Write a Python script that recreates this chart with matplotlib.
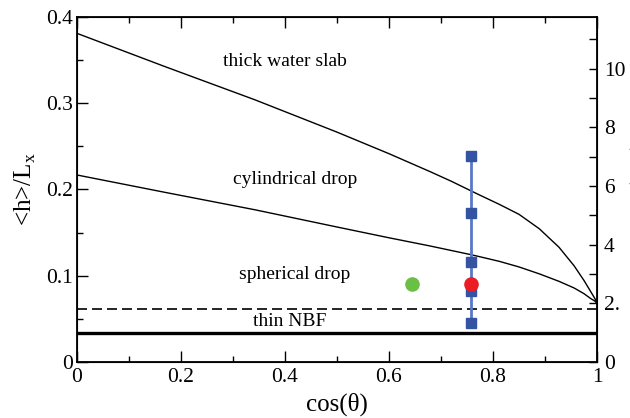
import matplotlib
matplotlib.use("Agg")
import matplotlib.pyplot as plt
from matplotlib.ticker import MultipleLocator, FixedLocator, FixedFormatter

plt.rcParams['font.family'] = ['Liberation Serif', 'DejaVu Serif']

# boundary curves (cos(theta), <h>/Lx)
slab_x = [0.0, 0.169, 0.342, 0.5, 0.6, 0.679, 0.72, 0.757, 0.7735, 0.812, 0.850,
          0.889, 0.927, 0.956, 0.975, 0.988, 0.996, 1.0]
slab_y = [0.381, 0.3425, 0.304, 0.2665, 0.2415, 0.2207, 0.2095, 0.1986, 0.1938, 0.1828,
          0.1712, 0.1545, 0.133, 0.1115, 0.0945, 0.0815, 0.0735, 0.068]

cyl_x = [0.0, 0.169, 0.342, 0.5, 0.6, 0.679, 0.757, 0.7735, 0.812, 0.850, 0.889,
         0.927, 0.956, 0.975, 0.988, 0.996, 1.0]
cyl_y = [0.2168, 0.1967, 0.1765, 0.1565, 0.144, 0.1345, 0.1245, 0.1222, 0.1167,
         0.1102, 0.1022, 0.0935, 0.0858, 0.0792, 0.0735, 0.0706, 0.068]

sphere_limit = 0.0614   # dashed line
nbf_limit = 0.034       # thick solid line

# simulation points
blue_x = [0.757, 0.757, 0.757, 0.757, 0.757]
blue_y = [0.0449, 0.0827, 0.1156, 0.1724, 0.239]
red_x, red_y = [0.757], [0.090]
green_x, green_y = [0.644], [0.090]

region_labels = ['thick water slab', 'cylindrical drop', 'spherical drop', 'thin NBF']
region_pos = [(0.40, 0.3478), (0.42, 0.211), (0.418, 0.1009), (0.409, 0.0464)]

x_ticks = [0, 0.2, 0.4, 0.6, 0.8, 1.0]
x_ticklabels = ['0', '0.2', '0.4', '0.6', '0.8', '1']
y_ticks = [0, 0.1, 0.2, 0.3, 0.4]
y_ticklabels = ['0', '0.1', '0.2', '0.3', '0.4']
r_ticks = [0, 2, 4, 6, 8, 10]
r_ticklabels = ['0', '2.', '4', '6', '8', '10']

fig = plt.figure(figsize=(6.3, 4.18), dpi=100)
ax = fig.add_axes([0.1222, 0.134, 0.8254, 0.8254])

ax.plot(slab_x, slab_y, color='black', lw=1.0)
ax.plot(cyl_x, cyl_y, color='black', lw=1.0)
ax.axhline(sphere_limit, color='black', lw=1.2, dashes=(6, 3))
ax.axhline(nbf_limit, color='black', lw=2.4)

ax.plot(blue_x, blue_y, '-', color='#5a78c8', lw=2.0, zorder=3)
ax.plot(blue_x, blue_y, 's', color='#3453a3', ms=7.5, zorder=4)
ax.plot(red_x, red_y, 'o', color='#ec1c24', ms=9.5, zorder=5)
ax.plot(green_x, green_y, 'o', color='#6abf45', ms=9.5, zorder=5)

for label, (tx, ty) in zip(region_labels, region_pos):
    ax.text(tx, ty, label, fontsize=14, ha='center', va='center')

ax.set_xlim(0, 1)
ax.set_ylim(0, 0.4)
ax.xaxis.set_major_locator(FixedLocator(x_ticks))
ax.xaxis.set_major_formatter(FixedFormatter(x_ticklabels))
ax.xaxis.set_minor_locator(MultipleLocator(0.1))
ax.yaxis.set_major_locator(FixedLocator(y_ticks))
ax.yaxis.set_major_formatter(FixedFormatter(y_ticklabels))
ax.yaxis.set_minor_locator(MultipleLocator(0.05))
ax.tick_params(which='both', direction='in', top=True, right=False, labelsize=15.5, width=1.0)
ax.tick_params(which='major', length=8)
ax.tick_params(which='minor', length=4.5)
ax.tick_params(axis='x', pad=4)
ax.tick_params(axis='y', pad=3)
for sp in ax.spines.values():
    sp.set_linewidth(1.3)

ax.set_xlabel('cos(\u03b8)', fontsize=18, labelpad=4)
ax.set_ylabel('<h>/L$_\\mathregular{x}$', fontsize=18, labelpad=6)

# right axis, its label runs off the right edge as in the original
ax2 = ax.twinx()
ax2.set_ylim(0, 11.76)
ax2.yaxis.set_major_locator(FixedLocator(r_ticks))
ax2.yaxis.set_major_formatter(FixedFormatter(r_ticklabels))
ax2.yaxis.set_minor_locator(MultipleLocator(1))
ax2.tick_params(which='both', direction='in', labelsize=15.5, length=6, width=1.0, pad=5)
ax2.set_ylabel('<h> (nm)', fontsize=18, labelpad=4)

fig.savefig('out.png', dpi=100)
